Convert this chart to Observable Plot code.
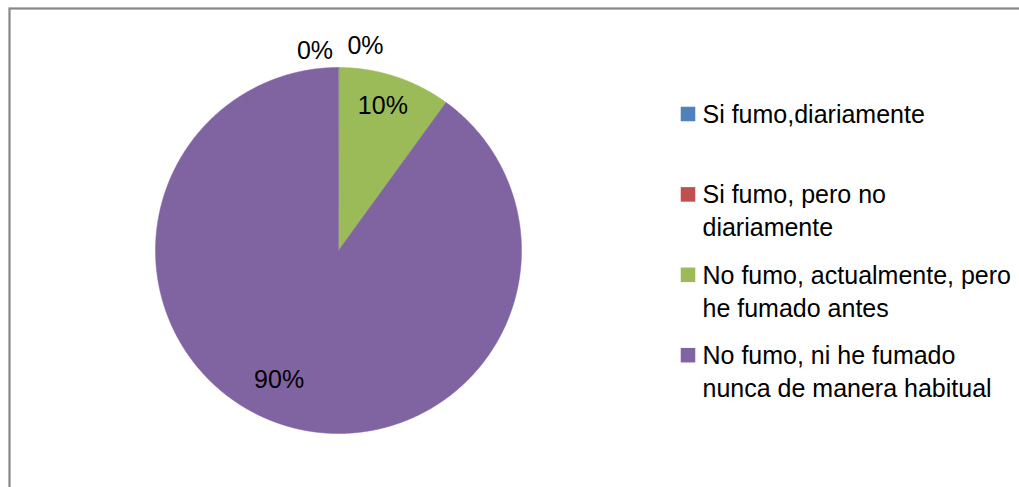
<!DOCTYPE html>
<html>
<head>
<meta charset="utf-8">
<script src="https://cdn.jsdelivr.net/npm/d3@7"></script>
<script src="https://cdn.jsdelivr.net/npm/@observablehq/plot@0.6"></script>
<style>
  html, body { margin: 0; padding: 0; background: #ffffff; }
  #chart svg { display: block; font-family: "Liberation Sans", Arial, sans-serif; background: #ffffff; }
</style>
</head>
<body>
<div id="chart"></div>
<script>
// ---- data ----
const categories = [
  "Si fumo,diariamente",
  "Si fumo, pero no diariamente",
  "No fumo, actualmente, pero he fumado antes",
  "No fumo, ni he fumado nunca de manera habitual"
];
const legendText = [
  "Si fumo,diariamente",
  "Si fumo, pero no\ndiariamente",
  "No fumo, actualmente, pero\nhe fumado antes",
  "No fumo, ni he fumado\nnunca de manera habitual"
];
const values = [0, 0, 10, 90];
const valueLabels = ["0%", "0%", "10%", "90%"];
const colors = ["#4F81BD", "#C0504D", "#9BBB59", "#8064A2"];

// ---- layout ----
const W = 1019, H = 487;
const cx = 338, cy = 250, R = 183;
const total = d3.sum(values);

// slices (angles clockwise from 12 o'clock)
let acc = 0;
const slices = values.map((v, i) => {
  const a0 = acc / total * 2 * Math.PI;
  acc += v;
  const a1 = acc / total * 2 * Math.PI;
  return {i, key: categories[i], value: v, label: valueLabels[i], a0, a1, mid: (a0 + a1) / 2};
});

// polygon points for each non-empty slice
const piePts = [];
for (const s of slices) {
  if (s.value <= 0) continue;
  piePts.push({key: s.key, x: cx, y: cy});
  const n = Math.max(2, Math.ceil((s.a1 - s.a0) / (Math.PI / 360)));
  for (let k = 0; k <= n; k++) {
    const a = s.a0 + (s.a1 - s.a0) * k / n;
    piePts.push({key: s.key, x: cx + R * Math.sin(a), y: cy - R * Math.cos(a)});
  }
}

// inside labels
const inside = slices.filter(s => s.value > 0).map(s => ({
  label: s.label, value: s.value,
  x: cx + 0.82 * R * Math.sin(s.mid),
  y: cy - 0.82 * R * Math.cos(s.mid)
}));
// zero-value labels placed just outside the top of the pie
const zeros = slices.filter(s => s.value === 0).map((s, k) => ({
  label: s.label,
  x: cx + R * 1.1 * Math.sin(s.mid) + (k === 0 ? -23.5 : 27),
  y: cy - R * (k === 0 ? 1.09 : 1.12) * Math.cos(s.mid)
}));

// legend entries
const legend = categories.map((c, i) => ({key: c, text: legendText[i], y: 113.5 + i * 80.4}));

const chart = Plot.plot({
  width: W, height: H,
  margin: 0,
  x: {domain: [0, W], range: [0, W], axis: null},
  y: {domain: [0, H], range: [0, H], axis: null},
  color: {domain: categories, range: colors},
  style: {fontFamily: "Liberation Sans, Arial, sans-serif", background: "#ffffff"},
  marks: [
    Plot.frame({stroke: "#878787", strokeWidth: 2.2, insetLeft: 9, insetTop: 8, insetRight: -20, insetBottom: -20}),
    Plot.line(piePts, {x: "x", y: "y", z: "key", fill: "key", stroke: "key", strokeWidth: 0.5, curve: "linear-closed"}),
    Plot.text(inside.filter(d => d.value < 50), {x: "x", y: "y", text: "label", fontSize: 25, fill: "#000", dx: -2, dy: -2}),
    Plot.text(inside.filter(d => d.value >= 50), {x: "x", y: "y", text: "label", fontSize: 25, fill: "#000", dx: -13, dy: -13}),
    Plot.text(zeros, {x: "x", y: "y", text: "label", fontSize: 25, fill: "#000"}),
    Plot.dot(legend, {x: 687.5, y: "y", symbol: "square", r: 8.2, fill: "key", stroke: null}),
    Plot.text(legend, {x: 702, y: "y", text: "text", textAnchor: "start", lineAnchor: "top", dy: -14.5,
                       lineHeight: 1.32, fontSize: 25, fill: "#000"})
  ]
});
document.getElementById("chart").appendChild(chart);
</script>
</body>
</html>
